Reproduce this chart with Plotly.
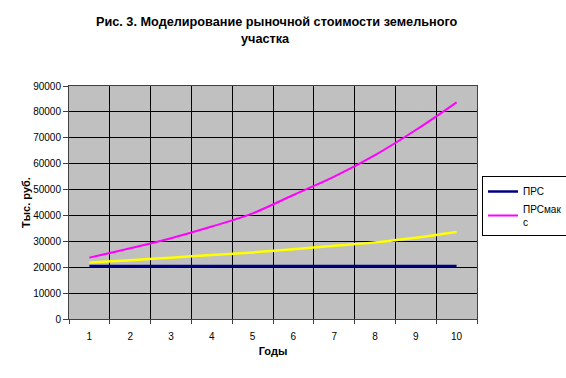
import plotly.graph_objects as go

years = [1, 2, 3, 4, 5, 6, 7, 8, 9, 10]
prs = [20500] * 10
prs_max = [23700, 27300, 31200, 35700, 40800, 47900, 55000, 63300, 73000, 83700]
prs_mid = [21800, 22700, 23700, 24700, 25700, 26900, 28300, 29600, 31400, 33600]
title_lines = ["Рис. 3. Моделирование рыночной стоимости земельного", "участка"]

FONT = "Liberation Sans, Arial, sans-serif"
L, R, T, B = 69, 89, 86, 59
W, H = 566, 378
PW, PH = W - L - R, H - T - B

fig = go.Figure()
fig.add_trace(go.Scatter(x=years, y=prs, mode="lines", name="ПРС",
                         line=dict(color="#000080", width=2.5)))
fig.add_trace(go.Scatter(x=years, y=prs_max, mode="lines", name="ПРСмак<br>с",
                         line=dict(color="#FF00FF", width=2, shape="spline")))
fig.add_trace(go.Scatter(x=years, y=prs_mid, mode="lines", name="",
                         showlegend=False,
                         line=dict(color="#FFFF00", width=2.5, shape="spline")))

# title as two centred lines
for txt, cx, cy in [(title_lines[0], 277, 22), (title_lines[1], 265, 39)]:
    fig.add_annotation(text="<b>" + txt + "</b>", xref="paper", yref="paper",
                       x=(cx - L) / PW, y=(H - B - cy) / PH, xanchor="center",
                       yanchor="middle", showarrow=False,
                       font=dict(size=12.7, family=FONT, color="black"))

fig.update_layout(
    width=W, height=H,
    margin=dict(l=L, r=R, t=T, b=B, autoexpand=False),
    paper_bgcolor="white",
    plot_bgcolor="#C0C0C0",
    font=dict(family=FONT, size=10, color="black"),
    legend=dict(x=(482 - L) / PW, y=(H - B - 176) / PH, xanchor="left", yanchor="top",
                bgcolor="white", bordercolor="black", borderwidth=1,
                font=dict(size=10, family=FONT), itemwidth=30,
                tracegroupgap=8),
    xaxis=dict(range=[0.5, 10.5], tickmode="array", tickvals=years,
               ticktext=[str(y) for y in years], showgrid=False, ticks="",
               zeroline=False, showline=True, linecolor="#404040", linewidth=1,
               mirror=True,
               minor=dict(tick0=0.5, dtick=1, showgrid=True, gridcolor="black",
                          gridwidth=1, ticks="outside", ticklen=4, tickcolor="#404040"),
               title=dict(text="<b>Годы</b>", standoff=6, font=dict(size=11)),
               ticklabelstandoff=8),
    yaxis=dict(range=[0, 90000], dtick=10000, tickformat="d", showgrid=True,
               gridcolor="black", gridwidth=1, ticks="outside", ticklen=5,
               tickcolor="#404040",
               zeroline=False, showline=True, linecolor="#404040", linewidth=1,
               mirror=True,
               title=dict(text="<b>Тыс. руб.</b>", standoff=0, font=dict(size=11))),
)

fig.write_html("out.html")
